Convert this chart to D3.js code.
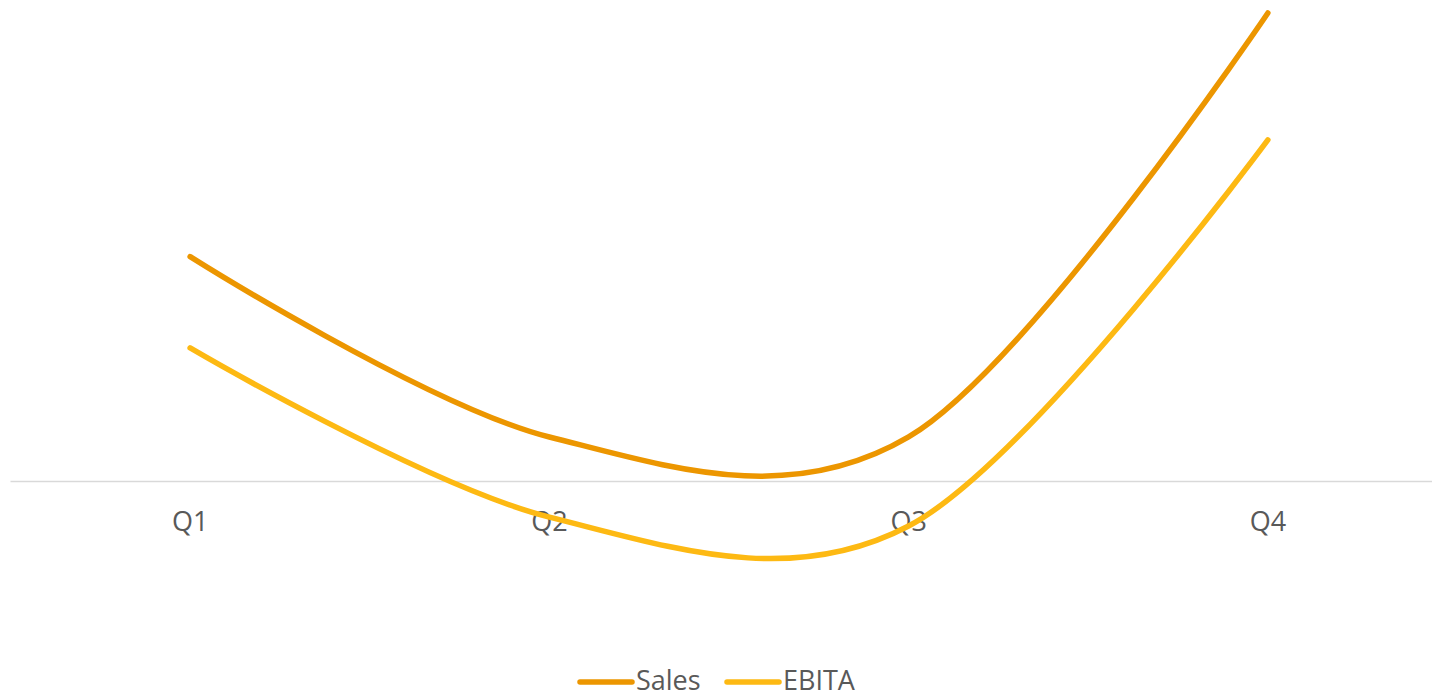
<!DOCTYPE html>
<html>
<head>
<meta charset="utf-8">
<script src="https://cdn.jsdelivr.net/npm/d3@7/dist/d3.min.js"></script>
<style>
  html, body { margin: 0; padding: 0; background: #ffffff; }
  svg { display: block; }
  text { font-family: "Open Sans", "Liberation Sans", sans-serif; fill: #595959; }
</style>
</head>
<body>
<script>
// Quarterly figures
const quarters = ["Q1", "Q2", "Q3", "Q4"];
const sales = [48, 9.5, 9.5, 100];
const ebita = [28.5, -7.6, -9.5, 72.9];
const seriesNames = ["Sales", "EBITA"];
const seriesColors = ["#EC9600", "#FDB913"];

const width = 1432, height = 698;

const svg = d3.select("body").append("svg")
  .attr("width", width)
  .attr("height", height);

// Categories are spread over a plot area that runs slightly past the right edge
const x = d3.scalePoint()
  .domain(quarters)
  .range([10.5, 1447.5])
  .padding(0.5);

const y = d3.scaleLinear()
  .domain([0, 100])
  .range([481.5, 13]);

// Zero line
svg.append("line")
  .attr("x1", 10.5).attr("x2", 1447.5)
  .attr("y1", y(0)).attr("y2", y(0))
  .attr("stroke", "#d9d9d9")
  .attr("stroke-width", 1.5);

// Category labels
svg.append("g")
  .selectAll("text")
  .data(quarters)
  .join("text")
  .attr("x", d => x(d))
  .attr("y", 531)
  .attr("text-anchor", "middle")
  .attr("font-size", 27)
  .text(d => d);

// Smoothed series lines
const line = d3.line()
  .x((d, i) => x(quarters[i]))
  .y(d => y(d))
  .curve(d3.curveCardinal.tension(0));

[sales, ebita].forEach((vals, i) => {
  svg.append("path")
    .datum(vals)
    .attr("d", line)
    .attr("fill", "none")
    .attr("stroke", seriesColors[i])
    .attr("stroke-width", 5.5)
    .attr("stroke-linecap", "round")
    .attr("stroke-linejoin", "round");
});

// Legend
const legendItems = [
  { name: seriesNames[0], color: seriesColors[0], x0: 580 },
  { name: seriesNames[1], color: seriesColors[1], x0: 727 }
];
const legend = svg.append("g");
legendItems.forEach(item => {
  legend.append("line")
    .attr("x1", item.x0).attr("x2", item.x0 + 52)
    .attr("y1", 682).attr("y2", 682)
    .attr("stroke", item.color)
    .attr("stroke-width", 5.5)
    .attr("stroke-linecap", "round");
  legend.append("text")
    .attr("x", item.x0 + 56)
    .attr("y", 690)
    .attr("font-size", 27)
    .text(item.name);
});
</script>
</body>
</html>
